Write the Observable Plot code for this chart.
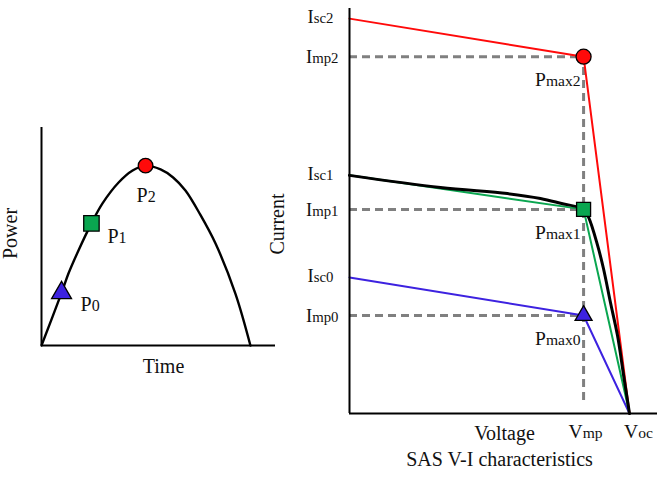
<!DOCTYPE html>
<html>
<head>
<meta charset="utf-8">
<script src="https://cdn.jsdelivr.net/npm/d3@7"></script>
<script src="https://cdn.jsdelivr.net/npm/@observablehq/plot@0.6"></script>
<style>
  html, body { margin: 0; padding: 0; background: #fff; }
  #fig { position: relative; width: 666px; height: 481px; overflow: hidden; }
  #fig svg { position: absolute; top: 0; }
  #fig svg text { font-family: "Liberation Serif", "Times New Roman", serif; }
</style>
</head>
<body>
<div id="fig"></div>
<script>
// ---- Power over time (MPPT tracking path) ----
const timePts  = [0, 0.96, 1.29, 1.77, 2.39, 2.92, 3.69, 4.36, 4.98, 5.70, 6.30, 6.89, 7.60, 8.33, 9.28, 10.0];
const powerPts = [0, 0.29, 0.396, 0.523, 0.672, 0.782, 0.897, 0.963, 0.99, 0.969, 0.925, 0.853, 0.72, 0.561, 0.286, 0];

// operating points reached on the power curve
const opLabels = ["P_0", "P_1", "P_2"];
const opTime   = [0.96, 2.39, 4.98];
const opPower  = [0.29, 0.672, 0.99];

// ---- SAS V-I characteristics, three irradiance levels ----
const levels = [0, 1, 2];
const vOc = 1.0;
const vMp = 0.836;
const iSc = [3.36, 5.88, 9.75];
const iMp = [2.42, 5.04, 8.81];

// measured SAS curve at level 1
const sasV = [0, 0.325, 0.564, 0.682, 0.754, 0.836, 0.854, 0.886, 0.907, 0.932, 0.957, 0.979, 1.0];
const sasI = [5.88, 5.58, 5.43, 5.31, 5.19, 5.04, 4.84, 4.15, 3.58, 2.74, 1.93, 0.94, 0];

const levelColors = ["#3d22e0", "#0aa650", "#ff0a0a"];
const levelSymbols = ["triangle", "square", "circle"];
const levelR = [6.3, 7.9, 7.5];

const serif = '"Liberation Serif", "Times New Roman", serif';
const H = 481;

// turn "X_sub" labels into a base glyph followed by a smaller run
function subscripts(svg) {
  d3.select(svg).selectAll("text").each(function () {
    const s = this.textContent;
    const j = s.indexOf("_");
    if (j < 0) return;
    const el = d3.select(this);
    el.text(null);
    el.append("tspan").text(s.slice(0, j));
    el.append("tspan").attr("font-size", "0.8em").text(s.slice(j + 1));
  });
  return svg;
}

// ---------- left panel ----------
const powerRows = timePts.map((t, i) => ({t, p: powerPts[i]}));
const opDx = [19, 16, -9];
const opDy = [18, 20, 36];
const opR = [7.4, 8.7, 7.3];

const leftPlot = Plot.plot({
  width: 290, height: H,
  marginLeft: 41, marginRight: 15, marginTop: 127, marginBottom: 136,
  x: {domain: [0, 11.2], axis: null},
  y: {domain: [0, 1.2], axis: null},
  style: {background: "transparent", fontFamily: serif, overflow: "visible"},
  marks: [
    Plot.line(powerRows, {x: "t", y: "p", curve: "catmull-rom", stroke: "#000", strokeWidth: 2.4}),
    Plot.ruleX([0], {stroke: "#000", strokeWidth: 2}),
    Plot.ruleY([0], {stroke: "#000", strokeWidth: 2}),
    ...levels.map(k => Plot.dot([k], {
      x: d => opTime[d], y: d => opPower[d],
      symbol: levelSymbols[k], r: opR[k],
      fill: levelColors[k], stroke: "#000", strokeWidth: 1.3
    })),
    ...levels.map(k => Plot.text([k], {
      x: d => opTime[d], y: d => opPower[d], text: d => opLabels[d],
      textAnchor: "start", lineAnchor: "bottom",
      dx: opDx[k], dy: opDy[k], fontSize: 20, fill: "#111"
    })),
    Plot.text(["Time"], {frameAnchor: "bottom", textAnchor: "middle", lineAnchor: "bottom", dx: 5, dy: 27, fontSize: 20, fill: "#111"}),
    Plot.text(["Power"], {frameAnchor: "left", textAnchor: "middle", rotate: -90, lineAnchor: "middle", dx: -31, dy: -3, fontSize: 20, fill: "#111"})
  ]
});
leftPlot.style.left = "0px";

// ---------- right panel ----------
const sasRows = sasV.map((v, i) => ({v, i: sasI[i]}));
const levelRows = levels.map(k => [
  {v: 0, i: iSc[k]},
  {v: vMp, i: iMp[k]},
  {v: vOc, i: 0}
]);
const dash = {stroke: "#808080", strokeWidth: 3, strokeDasharray: "8,5"};
const lbl = {fontSize: 19.5, fill: "#111"};

const rightPlot = Plot.plot({
  width: 404, height: H,
  marginLeft: 87, marginRight: 9, marginTop: 8, marginBottom: 68,
  x: {domain: [0, 1.1], axis: null},
  y: {domain: [0, 10], axis: null},
  style: {background: "transparent", fontFamily: serif, overflow: "visible"},
  marks: [
    // guides to the maximum power points
    Plot.ruleY(levels, {y: k => iMp[k], x1: 0, x2: vMp, ...dash}),
    Plot.ruleX([vMp], {y1: 0, y2: iMp[2], insetTop: -13, insetBottom: -2, ...dash}),
    // piecewise-linear approximations
    ...levels.map(k => Plot.line(levelRows[k], {x: "v", y: "i", stroke: levelColors[k], strokeWidth: 2})),
    // SAS curve
    Plot.line(sasRows, {x: "v", y: "i", curve: "catmull-rom", stroke: "#000", strokeWidth: 3}),
    // axes
    Plot.ruleX([0], {stroke: "#000", strokeWidth: 2}),
    Plot.ruleY([0], {stroke: "#000", strokeWidth: 2}),
    // maximum power points
    ...levels.map(k => Plot.dot([k], {
      x: vMp, y: d => iMp[d],
      symbol: levelSymbols[k], r: levelR[k],
      fill: levelColors[k], stroke: "#000", strokeWidth: 1.3
    })),
    Plot.text(levels, {x: 0, y: k => iSc[k], text: k => `I_sc${k}`, textAnchor: "end", lineAnchor: "bottom", dx: -16, dy: 4.5, fontSize: 18.5, fill: "#111"}),
    Plot.text(levels, {x: 0, y: k => iMp[k], text: k => `I_mp${k}`, textAnchor: "end", lineAnchor: "bottom", dx: -11, dy: 6.5, fontSize: 18.5, fill: "#111"}),
    Plot.text(levels, {x: vMp, y: k => iMp[k], text: k => `P_max${k}`, textAnchor: "end", lineAnchor: "bottom", dx: -3, dy: 29.5, ...lbl}),
    Plot.text(["V_mp"], {x: vMp, y: 0, textAnchor: "middle", lineAnchor: "bottom", dx: 2, dy: 24, ...lbl}),
    Plot.text(["V_oc"], {x: vOc, y: 0, textAnchor: "middle", lineAnchor: "bottom", dx: 9, dy: 24, ...lbl}),
    Plot.text(["Voltage"], {frameAnchor: "bottom", textAnchor: "middle", lineAnchor: "bottom", dx: 1, dy: 26, fontSize: 20, fill: "#111"}),
    Plot.text(["SAS V-I characteristics"], {frameAnchor: "bottom", textAnchor: "middle", lineAnchor: "bottom", dx: -4, dy: 52, fontSize: 20, fill: "#111"}),
    Plot.text(["Current"], {frameAnchor: "left", textAnchor: "middle", rotate: -90, lineAnchor: "middle", dx: -72, dy: 13, fontSize: 20, fill: "#111"})
  ]
});
rightPlot.style.left = "262px";

const fig = document.getElementById("fig");
fig.append(subscripts(leftPlot), subscripts(rightPlot));
</script>
</body>
</html>
